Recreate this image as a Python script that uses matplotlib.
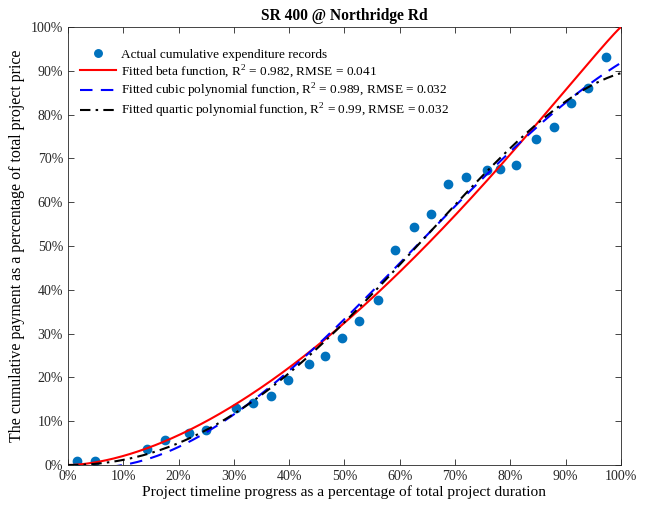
import numpy as np
import matplotlib
matplotlib.use("Agg")
import matplotlib.pyplot as plt
from matplotlib.ticker import FuncFormatter, MultipleLocator

# Cumulative expenditure records (fractions of total duration / total price)
progress = [0.016, 0.048, 0.143, 0.175, 0.218, 0.249, 0.303, 0.335, 0.367,
            0.397, 0.436, 0.465, 0.496, 0.526, 0.561, 0.591, 0.626, 0.656,
            0.688, 0.720, 0.757, 0.781, 0.811, 0.846, 0.878, 0.910, 0.941,
            0.972]
payment = [0.009, 0.010, 0.037, 0.056, 0.074, 0.081, 0.131, 0.142, 0.158,
           0.195, 0.231, 0.250, 0.290, 0.329, 0.377, 0.490, 0.543, 0.574,
           0.642, 0.657, 0.674, 0.676, 0.686, 0.744, 0.771, 0.827, 0.861,
           0.931]

legend_labels = [
    "Actual cumulative expenditure records",
    r"Fitted beta function, R$^2$ = 0.982, RMSE = 0.041",
    r"Fitted cubic polynomial function, R$^2$ = 0.989, RMSE = 0.032",
    r"Fitted quartic polynomial function, R$^2$ = 0.99, RMSE = 0.032",
]

x = np.array(progress)
y = np.array(payment)
xs = np.linspace(0, 1, 401)


def beta_cdf(t, a, b):
    grid = np.linspace(0, 1, 2001)
    mid = 0.5 * (grid[1:] + grid[:-1])
    dens = mid ** (a - 1) * (1 - mid) ** (b - 1)
    cum = np.concatenate([[0], np.cumsum(dens)])
    cum /= cum[-1]
    return np.interp(t, grid, cum)


# least-squares beta fit by grid search
best = None
for a in np.linspace(1.0, 3.0, 81):
    for b in np.linspace(0.6, 2.0, 57):
        err = np.sum((beta_cdf(x, a, b) - y) ** 2)
        if best is None or err < best[0]:
            best = (err, a, b)
_, a_fit, b_fit = best
y_beta = beta_cdf(xs, a_fit, b_fit)


def origin_polyfit(deg):
    # polynomial through the origin (no constant term)
    A = np.column_stack([x ** k for k in range(1, deg + 1)])
    coef, *_ = np.linalg.lstsq(A, y, rcond=None)
    return sum(c * xs ** k for k, c in enumerate(coef, start=1))


y_cubic = origin_polyfit(3)
y_quartic = origin_polyfit(4)

plt.rcParams["font.family"] = ["Liberation Serif", "DejaVu Serif"]
plt.rcParams["mathtext.fontset"] = "custom"
plt.rcParams["mathtext.rm"] = "Liberation Serif"

fig = plt.figure(figsize=(6.45, 5.08), dpi=100)
ax = fig.add_axes([0.1054, 0.0846, 0.8574, 0.8623])

ax.plot(x, y, "o", color="#0072BD", markersize=6, label=legend_labels[0],
        zorder=2)
ax.plot(xs, y_beta, "-", color="#FF0000", lw=1.5, label=legend_labels[1],
        zorder=3)
ax.plot(xs, y_cubic, "--", color="#0000FF", lw=1.5, dashes=(6, 4),
        label=legend_labels[2], zorder=4)
ax.plot(xs, y_quartic, "-.", color="black", lw=1.5, dashes=(5, 2.5, 1.2, 2.5),
        label=legend_labels[3], zorder=5)

ax.set_xlim(0, 1)
ax.set_ylim(0, 1)
pct = FuncFormatter(lambda v, _: f"{v * 100:.0f}%")
ax.xaxis.set_major_locator(MultipleLocator(0.1))
ax.yaxis.set_major_locator(MultipleLocator(0.1))
ax.xaxis.set_major_formatter(pct)
ax.yaxis.set_major_formatter(pct)
ax.tick_params(direction="in", top=True, right=True, length=4,
               color="#262626", labelsize=10, labelcolor="#262626",
               width=0.6)
for s in ax.spines.values():
    s.set_color("#262626")
    s.set_linewidth(0.6)

ax.set_title("SR 400 @ Northridge Rd", fontsize=11.2, fontweight="bold",
             pad=5)
ax.set_xlabel("Project timeline progress as a percentage of total project duration",
              fontsize=11.1, labelpad=2)
ax.set_ylabel("The cumulative payment as a percentage of total project price",
              fontsize=11.4, labelpad=4)

leg = ax.legend(loc="upper left", bbox_to_anchor=(0.005, 0.972),
                frameon=False, fontsize=9.5, handlelength=2.7,
                handletextpad=0.4, labelspacing=0.15, borderaxespad=0.3,
                markerscale=0.9)

fig.savefig("out.png", dpi=100)
